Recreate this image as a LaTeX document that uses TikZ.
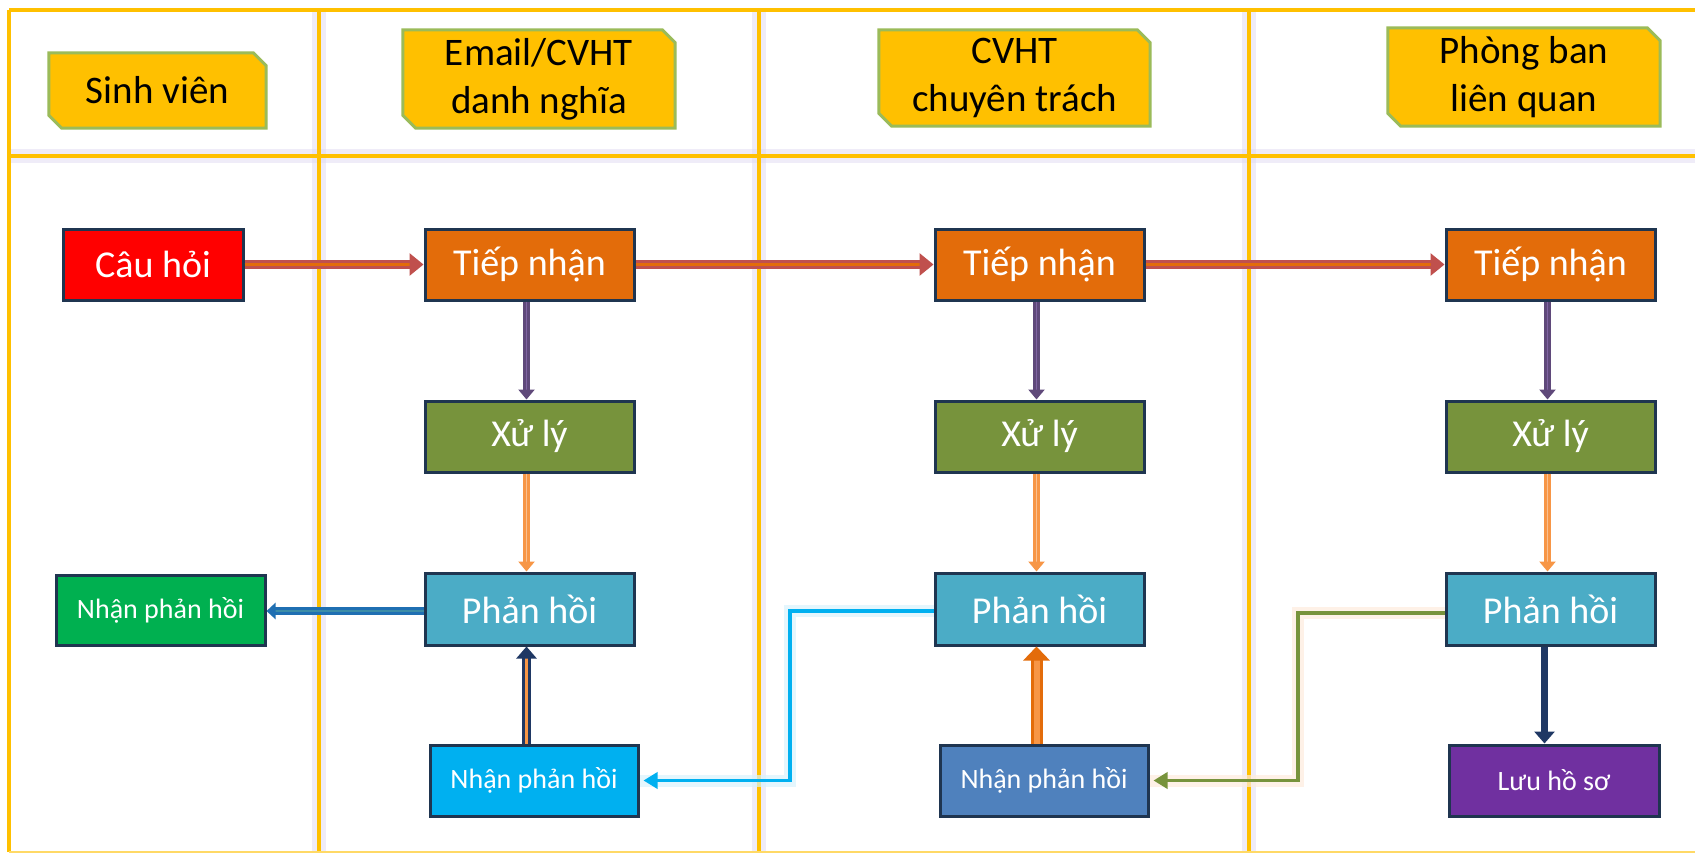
\documentclass[tikz,border=0pt]{standalone}
\usepackage{fontspec}
\setmainfont{Carlito}
\usetikzlibrary{arrows.meta,calc,backgrounds}
\definecolor{gold}{HTML}{FFC000}
\definecolor{goldlight}{HTML}{FFD966}
\definecolor{lav}{HTML}{DCD6F0}
\definecolor{hdrgreen}{HTML}{9BBB59}
\definecolor{boxline}{HTML}{1F3550}
\definecolor{cred}{HTML}{FF0000}
\definecolor{corange}{HTML}{E36C0A}
\definecolor{colive}{HTML}{77933C}
\definecolor{cteal}{HTML}{4BACC6}
\definecolor{cgreen}{HTML}{00B050}
\definecolor{csky}{HTML}{00B0F0}
\definecolor{csteel}{HTML}{4F81BD}
\definecolor{cpurple}{HTML}{7030A0}
\definecolor{arrred}{HTML}{C0504D}
\definecolor{arrpurple}{HTML}{5F497A}
\definecolor{arrpurplein}{HTML}{8064A2}
\definecolor{arrorange}{HTML}{F79646}
\definecolor{arrorangein}{HTML}{FAC090}
\definecolor{arrblue}{HTML}{1F6FB2}
\definecolor{arrbluein}{HTML}{3C8DA8}
\definecolor{arrnavy}{HTML}{1F3864}
\newcommand\chamf[1]{%
  \filldraw[hdrfill] (#1.north west) -- ($(#1.north east)+(-13,0)$) -- ($(#1.north east)+(0,13)$)
   -- (#1.south east) -- ($(#1.south west)+(13,0)$) -- ($(#1.south west)+(0,-13)$) -- cycle;}
\begin{document}
\begin{tikzpicture}[x=1pt,y=-1pt,
  gridline/.style={draw=gold,line width=3.5pt},
  glowline/.style={draw=lav,line width=14pt,opacity=.45},
  hdr/.style={inner sep=0pt,align=center,text=black,font=\fontsize{39}{48}\selectfont},
  hdrfill/.style={fill=gold,draw=hdrgreen,line width=3pt,line join=miter},
  procbox/.style={draw=boxline,line width=3pt,inner sep=0pt,text=white,
     minimum width=209pt,minimum height=71pt,font=\fontsize{38}{46}\selectfont},
  smallbox/.style={procbox,font=\fontsize{28}{34}\selectfont},
  redarr/.style={draw=arrred,double=corange,line width=3pt,double distance=3pt,
     -{Triangle[length=14pt,width=22pt]}},
  purarr/.style={draw=arrpurple,double=arrpurplein,line width=2.5pt,double distance=1.5pt,
     -{Triangle[length=10pt,width=16pt]}},
  orarr/.style={draw=arrorange,double=arrorangein,line width=2.5pt,double distance=1.5pt,
     -{Triangle[length=10pt,width=16pt]}},
  bluearr/.style={draw=arrblue,double=arrbluein,line width=3pt,double distance=2pt,
     -{Triangle[length=9pt,width=16pt]}},
  upnavy/.style={draw=arrnavy,double=arrorange,line width=2.5pt,double distance=3.5pt,
     -{Triangle[length=12pt,width=20pt]}},
  uporange/.style={draw=corange,double=arrorange,line width=3pt,double distance=6pt,
     -{Triangle[length=14pt,width=26pt]}},
  navyarr/.style={draw=arrnavy,line width=7pt,-{Triangle[length=12pt,width=20pt]}},
  skyarr/.style={draw=csky,line width=3.5pt,-{Triangle[length=14pt,width=16pt]}},
  skyglow/.style={draw=csky!15,line width=12pt,opacity=.7},
  grnarr/.style={draw=colive,line width=3.5pt,-{Triangle[length=14pt,width=16pt]}},
  grnglow/.style={draw=arrorange!18,line width=12pt,opacity=.7}
]
\useasboundingbox (0,0) rectangle (1695,854);
\clip (0,0) rectangle (1695,854);

% glow of grid lines
\foreach \xx in {319,759,1249}{\draw[glowline] (\xx,10) -- (\xx,852);}
\draw[glowline] (9,156) -- (1700,156);
% grid lines
\draw[gridline] (9,10) -- (1700,10);
\draw[gridline] (9,156) -- (1700,156);
\draw[gridline] (9,10) -- (9,852);
\foreach \xx in {319,759,1249}{\draw[gridline] (\xx,10) -- (\xx,852);}
\draw[draw=goldlight,line width=2.5pt] (9,852) -- (1700,852);

% headers
\node[hdr,minimum width=217pt,minimum height=75pt] (hSV) at (157.5,90.5) {Sinh viên};
\node[hdr,minimum width=272pt,minimum height=98pt] (hEm) at (539,79) {Email/CVHT\\danh nghĩa};
\node[hdr,minimum width=271pt,minimum height=96pt] (hCV) at (1014.5,78) {CVHT\\chuyên trách};
\node[hdr,minimum width=272pt,minimum height=98pt] (hPB) at (1524,77) {Phòng ban\\liên quan};
\begin{scope}[on background layer]
\fill[white] (0,0) rectangle (1695,854);
\chamf{hSV}\chamf{hEm}\chamf{hCV}\chamf{hPB}
\end{scope}

% process boxes
\node[procbox,fill=cred,minimum width=180pt] (q) at (153,264.5) {Câu hỏi};
\node[procbox,fill=corange] (t2) at (529.5,264.5) {Tiếp nhận};
\node[procbox,fill=corange] (t3) at (1039.5,264.5) {Tiếp nhận};
\node[procbox,fill=corange] (t4) at (1550.5,264.5) {Tiếp nhận};
\node[procbox,fill=colive] (x2) at (529.5,436.5) {Xử lý};
\node[procbox,fill=colive] (x3) at (1039.5,436.5) {Xử lý};
\node[procbox,fill=colive] (x4) at (1550.5,436.5) {Xử lý};
\node[procbox,fill=cteal,minimum height=72pt] (p2) at (529.5,609) {Phản hồi};
\node[procbox,fill=cteal,minimum height=72pt] (p3) at (1039.5,609) {Phản hồi};
\node[procbox,fill=cteal,minimum height=72pt] (p4) at (1550.5,609) {Phản hồi};
\node[smallbox,fill=cgreen,minimum height=70pt] (n1) at (160.5,610) {Nhận phản hồi};
\node[smallbox,fill=csky,minimum width=208pt] (n2) at (534,780.5) {Nhận phản hồi};
\node[smallbox,fill=csteel,minimum width=208pt] (n3) at (1044,780.5) {Nhận phản hồi};
\node[smallbox,fill=cpurple,minimum width=210pt] (l4) at (1554,780.5) {Lưu hồ sơ};

\coordinate (e1) at (790,0);
\coordinate (e2) at (1298,0);

% connectors
\draw[redarr] (q.east) -- (t2.west);
\draw[redarr] (t2.east) -- (t3.west);
\draw[redarr] (t3.east) -- (t4.west);
\foreach \a/\b in {t2/x2,t3/x3,t4/x4}{\draw[purarr] ([xshift=-3pt]\a.south) -- ([xshift=-3pt]\b.north);}
\foreach \a/\b in {x2/p2,x3/p3,x4/p4}{\draw[orarr] ([xshift=-3pt]\a.south) -- ([xshift=-3pt]\b.north);}
\draw[bluearr] ([yshift=-2pt]p2.west) -- ([yshift=-2pt]p2.west -| n1.east);
\draw[upnavy] ([xshift=-3pt]p2.south |- n2.north) -- ([xshift=-3pt]p2.south);
\draw[uporange] ([xshift=-3pt]p3.south |- n3.north) -- ([xshift=-3pt]p3.south);
\draw[navyarr] ([xshift=-6pt]p4.south) -- ([xshift=-6pt]p4.south |- l4.north);
\draw[skyglow] ([yshift=-2pt]p3.west) -- ([yshift=-2pt]p3.west -| e1) |- (n2.east);
\draw[skyarr] ([yshift=-2pt]p3.west) -- ([yshift=-2pt]p3.west -| e1) |- ([xshift=4pt]n2.east);
\draw[grnglow] ([yshift=-4pt]p4.west) -- ([yshift=-4pt]p4.west -| e2) |- (n3.east);
\draw[grnarr] ([yshift=-4pt]p4.west) -- ([yshift=-4pt]p4.west -| e2) |- ([xshift=4pt]n3.east);
\end{tikzpicture}
\end{document}
